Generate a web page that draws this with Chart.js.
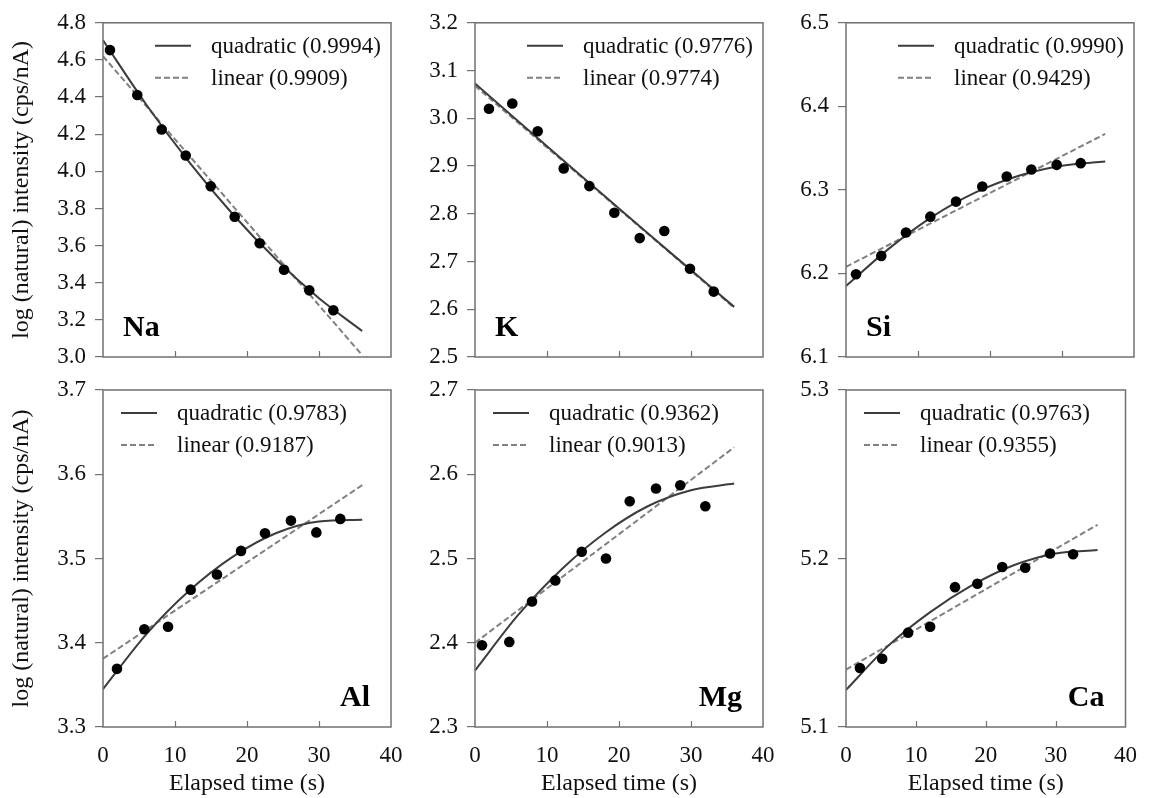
<!DOCTYPE html>
<html>
<head>
<meta charset="utf-8">
<script src="https://cdn.jsdelivr.net/npm/chart.js@4.4.1/dist/chart.umd.min.js"></script>
<style>
  html, body { margin: 0; padding: 0; background: #ffffff; }
  #wrap { position: relative; width: 1152px; height: 798px; overflow: hidden; }
  #wrap canvas { position: absolute; left: 0; top: 0; }
</style>
</head>
<body>
<div id="wrap"></div>
<script>
// ---------------- DATA ----------------
const xTickValues = [0, 10, 20, 30, 40];
const fitTime = [0, 6, 12, 18, 24, 30, 36];
const linTime = [0, 36];

const naTime  = [0.97, 4.76, 8.15, 11.49, 14.96, 18.29, 21.76, 25.14, 28.65, 31.99];
const naValue = [4.653, 4.411, 4.225, 4.085, 3.920, 3.755, 3.613, 3.470, 3.359, 3.252];
const naQuad  = [4.706, 4.360, 4.048, 3.770, 3.526, 3.316, 3.140];
const naLin   = [4.620, 3.010];
const naYTicks = ['3.0', '3.2', '3.4', '3.6', '3.8', '4.0', '4.2', '4.4', '4.6', '4.8'];

const kTime  = [1.94, 5.18, 8.71, 12.32, 15.88, 19.35, 22.88, 26.29, 29.86, 33.15];
const kValue = [3.020, 3.031, 2.973, 2.895, 2.858, 2.802, 2.749, 2.764, 2.685, 2.637];
const kQuad  = [3.073, 2.994, 2.915, 2.837, 2.759, 2.682, 2.605];
const kLin   = [3.068, 2.603];
const kYTicks = ['2.5', '2.6', '2.7', '2.8', '2.9', '3.0', '3.1', '3.2'];

const siTime  = [1.39, 4.90, 8.33, 11.71, 15.28, 18.93, 22.32, 25.74, 29.26, 32.60];
const siValue = [6.199, 6.221, 6.249, 6.268, 6.286, 6.304, 6.316, 6.3245, 6.330, 6.332];
const siQuad  = [6.185, 6.230, 6.268, 6.297, 6.317, 6.329, 6.334];
const siLin   = [6.208, 6.367];
const siYTicks = ['6.1', '6.2', '6.3', '6.4', '6.5'];

const alTime  = [1.94, 5.74, 9.03, 12.18, 15.83, 19.17, 22.50, 26.10, 29.63, 32.96];
const alValue = [3.369, 3.416, 3.419, 3.463, 3.481, 3.509, 3.530, 3.545, 3.531, 3.547];
const alQuad  = [3.345, 3.410, 3.462, 3.502, 3.530, 3.544, 3.546];
const alLin   = [3.381, 3.587];
const alYTicks = ['3.3', '3.4', '3.5', '3.6', '3.7'];

const mgTime  = [0.97, 4.76, 7.92, 11.15, 14.82, 18.19, 21.49, 25.14, 28.51, 31.99];
const mgValue = [2.397, 2.401, 2.449, 2.474, 2.508, 2.500, 2.568, 2.583, 2.587, 2.562];
const mgQuad  = [2.367, 2.433, 2.487, 2.530, 2.562, 2.581, 2.589];
const mgLin   = [2.400, 2.632];
const mgYTicks = ['2.3', '2.4', '2.5', '2.6', '2.7'];

const caTime  = [1.99, 5.18, 8.89, 12.04, 15.60, 18.80, 22.36, 25.65, 29.20, 32.50];
const caValue = [5.135, 5.1405, 5.156, 5.1595, 5.183, 5.185, 5.195, 5.1945, 5.203, 5.2025];
const caQuad  = [5.122, 5.148, 5.168, 5.184, 5.196, 5.203, 5.205];
const caLin   = [5.134, 5.220];
const caYTicks = ['5.1', '5.2', '5.3'];

const elements = ['Na', 'K', 'Si', 'Al', 'Mg', 'Ca'];
const quadLabels = ['quadratic (0.9994)', 'quadratic (0.9776)', 'quadratic (0.9990)',
                    'quadratic (0.9783)', 'quadratic (0.9362)', 'quadratic (0.9763)'];
const linLabels  = ['linear (0.9909)', 'linear (0.9774)', 'linear (0.9429)',
                    'linear (0.9187)', 'linear (0.9013)', 'linear (0.9355)'];
const yTitle = 'log (natural) intensity (cps/nA)';
const xTitle = 'Elapsed time (s)';

// ---------------- LAYOUT / STYLE ----------------
const W = 1152, H = 798;
const colLeft  = [103, 475, 846];
const colRight = [391, 763, 1134];
const rowTop    = [20, 390];
const rowBottom = [357, 727];
const FONT = '"Liberation Serif", "Times New Roman", serif';
const TEXT = '#111111';
const FRAME = '#707070';
const QUAD_COLOR = '#3c3c3c';
const LIN_COLOR = '#808080';

const panels = [
  {t: naTime, v: naValue, q: naQuad, l: naLin, yt: naYTicks},
  {t: kTime,  v: kValue,  q: kQuad,  l: kLin,  yt: kYTicks},
  {t: siTime, v: siValue, q: siQuad, l: siLin, yt: siYTicks},
  {t: alTime, v: alValue, q: alQuad, l: alLin, yt: alYTicks},
  {t: mgTime, v: mgValue, q: mgQuad, l: mgLin, yt: mgYTicks},
  {t: caTime, v: caValue, q: caQuad, l: caLin, yt: caYTicks}
];

const toXY = (xs, ys) => xs.map((x, i) => ({x: x, y: ys[i]}));

const panelPlugin = {
  id: 'panelDecor',
  afterDraw(chart, args, opts) {
    const ctx = chart.ctx;
    const a = chart.chartArea;
    const xs = chart.scales.x;
    ctx.save();
    // inward x tick marks
    ctx.strokeStyle = FRAME;
    ctx.lineWidth = 1.2;
    xTickValues.slice(1, -1).forEach(v => {
      const px = Math.round(xs.getPixelForValue(v)) + 0.5;
      ctx.beginPath();
      ctx.moveTo(px, a.bottom);
      ctx.lineTo(px, a.bottom - 6);
      ctx.stroke();
    });
    // frame
    ctx.lineWidth = 1.5;
    ctx.strokeRect(a.left, a.top, a.right - a.left, a.bottom - a.top);
    // legend
    const lx0 = a.left + opts.legendOffset;
    const rows = [a.top + 23, a.top + 55];
    const lineDs = chart.data.datasets.filter(d => d.inLegend);
    ctx.font = '23px ' + FONT;
    ctx.textBaseline = 'middle';
    ctx.textAlign = 'left';
    lineDs.forEach((d, i) => {
      ctx.strokeStyle = d.borderColor;
      ctx.lineWidth = d.borderWidth;
      ctx.setLineDash(d.borderDash || []);
      ctx.beginPath();
      ctx.moveTo(lx0, rows[i]);
      ctx.lineTo(lx0 + 36, rows[i]);
      ctx.stroke();
      ctx.setLineDash([]);
      ctx.fillStyle = TEXT;
      ctx.fillText(d.label, lx0 + 56, rows[i] + 1);
    });
    // element label
    ctx.font = 'bold 30px ' + FONT;
    ctx.fillStyle = '#000';
    ctx.textBaseline = 'alphabetic';
    if (opts.elementRight) {
      ctx.textAlign = 'right';
      ctx.fillText(opts.element, a.right - 21, a.bottom - 21);
    } else {
      ctx.textAlign = 'left';
      ctx.fillText(opts.element, a.left + 20, a.bottom - 21);
    }
    ctx.restore();
  }
};

const wrap = document.getElementById('wrap');

panels.forEach((p, idx) => {
  const col = idx % 3, row = Math.floor(idx / 3);
  const canvas = document.createElement('canvas');
  canvas.width = W; canvas.height = H;
  canvas.style.width = W + 'px'; canvas.style.height = H + 'px';
  wrap.appendChild(canvas);

  const yAxisW = col === 0 ? colLeft[0] : 60;
  const xAxisH = row === 1 ? 71 : 10;
  const padLeft = colLeft[col] - yAxisW;
  const padRight = W - colRight[col];
  const padTop = rowTop[row];
  const padBottom = H - rowBottom[row] - xAxisH;
  const yNums = p.yt.map(Number);

  new Chart(canvas, {
    type: 'scatter',
    data: {
      datasets: [
        {
          label: 'data',
          data: toXY(p.t, p.v),
          pointRadius: 5.3,
          pointHoverRadius: 5.3,
          backgroundColor: '#000000',
          borderWidth: 0,
          showLine: false
        },
        {
          label: quadLabels[idx],
          inLegend: true,
          data: toXY(fitTime, p.q),
          showLine: true,
          borderColor: QUAD_COLOR,
          borderWidth: 2,
          pointRadius: 0,
          cubicInterpolationMode: 'monotone',
          fill: false
        },
        {
          label: linLabels[idx],
          inLegend: true,
          data: toXY(linTime, p.l),
          showLine: true,
          borderColor: LIN_COLOR,
          borderWidth: 2,
          borderDash: [6, 3],
          pointRadius: 0,
          fill: false
        }
      ]
    },
    options: {
      responsive: false,
      animation: false,
      devicePixelRatio: 1,
      layout: { padding: { left: padLeft, right: padRight, top: padTop, bottom: padBottom } },
      plugins: {
        legend: { display: false },
        tooltip: { enabled: false },
        panelDecor: {
          element: elements[idx],
          elementRight: row === 1,
          legendOffset: row === 0 ? 52 : 18
        }
      },
      scales: {
        x: {
          type: 'linear',
          min: xTickValues[0],
          max: xTickValues[xTickValues.length - 1],
          afterBuildTicks: s => { s.ticks = xTickValues.map(v => ({value: v})); },
          afterFit: s => { s.height = xAxisH; },
          border: { display: false },
          grid: { display: false, drawTicks: false },
          ticks: {
            display: row === 1,
            padding: 15,
            color: TEXT,
            font: { family: FONT, size: 23 },
            maxRotation: 0,
            callback: v => String(v)
          },
          title: {
            display: row === 1,
            text: xTitle,
            color: TEXT,
            font: { family: FONT, size: 24 },
            padding: { top: 0, bottom: 0 }
          }
        },
        y: {
          type: 'linear',
          min: yNums[0],
          max: yNums[yNums.length - 1],
          afterBuildTicks: s => { s.ticks = yNums.map(v => ({value: v})); },
          afterFit: s => { s.width = yAxisW; },
          border: { display: false },
          grid: { drawOnChartArea: false, drawTicks: true, tickLength: 8, color: FRAME, lineWidth: 1.2 },
          ticks: {
            padding: 9,
            color: TEXT,
            font: { family: FONT, size: 23 },
            callback: (v, i) => p.yt[i]
          },
          title: {
            display: col === 0,
            text: yTitle,
            color: TEXT,
            font: { family: FONT, size: 24 },
            padding: { top: 7, bottom: 0 }
          }
        }
      }
    },
    plugins: [panelPlugin]
  });
});
</script>
</body>
</html>
